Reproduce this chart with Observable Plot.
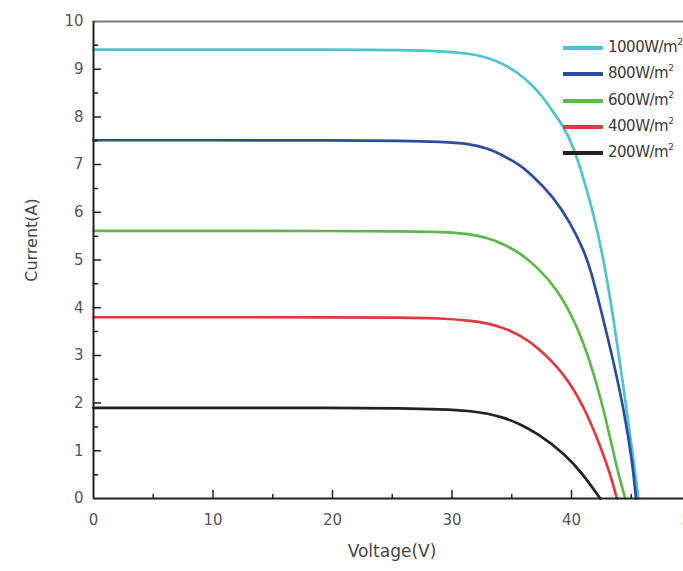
<!DOCTYPE html>
<html>
<head>
<meta charset="utf-8">
<script src="https://cdn.jsdelivr.net/npm/d3@7"></script>
<script src="https://cdn.jsdelivr.net/npm/@observablehq/plot@0.6"></script>
<style>
  html, body { margin: 0; padding: 0; background: #fff; overflow: hidden; }
  #wrap { position: relative; width: 683px; height: 571px; overflow: hidden; background: #fff; }
  #chart { position: absolute; left: 0; top: 0; width: 700px; }
  #chart svg { max-width: none !important; width: 700px; height: 571px; }
  .ylab { position: absolute; left: 31px; top: 240px; transform: translate(-50%, -50%) rotate(-90deg);
          font: 16px "DejaVu Sans", sans-serif; color: #444; white-space: nowrap; }
  .xlab { position: absolute; left: 392px; top: 551px; transform: translate(-50%, -50%);
          font: 17px "DejaVu Sans", sans-serif; color: #444; white-space: nowrap; }
  .legend { position: absolute; left: 563px; top: 35px; font: 15px "DejaVu Sans", sans-serif; color: #3a3a3a; letter-spacing: -0.5px; }
  .legend .row { position: relative; height: 26.3px; white-space: nowrap; }
  .legend .sw { position: absolute; left: 0; top: 11px; width: 40px; height: 4px; }
  .legend .tx { position: absolute; left: 45px; top: 3px; }
  .legend sup { font-size: 9px; vertical-align: 7px; line-height: 0; }
</style>
</head>
<body>
<div id="wrap">
  <div id="chart"></div>
  <div class="ylab">Current(A)</div>
  <div class="xlab">Voltage(V)</div>
  <div class="legend" id="legend"></div>
</div>
<script>
// Series labels and colours
const seriesNames = ["1000W/m²", "800W/m²", "600W/m²", "400W/m²", "200W/m²"];
const seriesColors = ["#4fc1d1", "#2b4c9f", "#5cb848", "#e1393f", "#222222"];

// I-V curves (voltage in V, current in A)
const v1000 = [0, 10, 20, 26, 29, 31.5, 33, 34.3, 35.5, 36.6, 37.5, 38.2, 39.4, 40.2, 41.0, 41.9, 42.7, 43.5, 44.4, 45.2, 45.6];
const i1000 = [9.41, 9.41, 9.41, 9.40, 9.38, 9.33, 9.24, 9.11, 8.93, 8.69, 8.45, 8.20, 7.78, 7.35, 6.72, 5.92, 5.00, 3.80, 2.25, 0.80, 0];

const v800 = [0, 10, 20, 26, 29, 31.5, 33, 34.3, 35.5, 36.6, 38.5, 39.9, 41.0, 41.6, 42.4, 43.5, 44.4, 45.1, 45.4];
const i800 = [7.51, 7.51, 7.51, 7.50, 7.48, 7.44, 7.34, 7.19, 7.02, 6.81, 6.32, 5.78, 5.22, 4.80, 4.02, 2.89, 1.84, 0.75, 0];

const v600 = [0, 10, 20, 26, 29, 31.5, 33, 34.3, 35.7, 37.1, 38.8, 40.5, 41.9, 43.0, 43.8, 44.5];
const i600 = [5.61, 5.61, 5.61, 5.60, 5.59, 5.55, 5.46, 5.34, 5.14, 4.86, 4.40, 3.62, 2.62, 1.55, 0.62, 0];

const v400 = [0, 10, 20, 26, 29, 31.5, 33, 34.3, 35.7, 37.1, 39.4, 41.0, 42.4, 43.3, 43.8];
const i400 = [3.80, 3.80, 3.80, 3.79, 3.78, 3.73, 3.67, 3.58, 3.42, 3.19, 2.62, 1.95, 1.12, 0.47, 0];

const v200 = [0, 10, 20, 26, 29, 31.5, 33, 34.3, 35.7, 37.1, 39.4, 41.0, 42.4];
const i200 = [1.90, 1.90, 1.90, 1.89, 1.87, 1.84, 1.78, 1.70, 1.56, 1.37, 0.95, 0.50, 0];

// Tick values
const xTickLabels = [0, 10, 20, 30, 40, 50];
const xMinorTicks = [5, 15, 25, 35, 45];
const yTickLabels = [0, 1, 2, 3, 4, 5, 6, 7, 8, 9, 10];
const yMinorTicks = [0.5, 1.5, 2.5, 3.5, 4.5, 5.5, 6.5, 7.5, 8.5, 9.5];

const curves = [[v1000, i1000], [v800, i800], [v600, i600], [v400, i400], [v200, i200]];
const data = curves.flatMap(([vs, is], k) => vs.map((v, j) => ({series: seriesNames[k], V: v, I: is[j]})));

const tickShape = {draw(context, l) { context.moveTo(0, 0); context.lineTo(0, -l); }};

const chart = Plot.plot({
  width: 700,
  height: 571,
  marginLeft: 93,
  marginRight: 9.5,
  marginTop: 21,
  marginBottom: 73,
  style: {color: "#555", fontFamily: "DejaVu Sans, sans-serif", background: "transparent", maxWidth: "none"},
  x: {domain: [0, 50]},
  y: {domain: [0, 10]},
  color: {domain: seriesNames, range: seriesColors},
  marks: [
    Plot.ruleY([10], {stroke: "#7a7a7a", strokeWidth: 2}),
    Plot.line(data, {x: "V", y: "I", z: "series", stroke: "series", curve: "basis", strokeWidth: 2.7}),
    Plot.ruleX([0], {stroke: "#222", strokeWidth: 2}),
    Plot.ruleY([0], {stroke: "#222", strokeWidth: 2}),
    Plot.vector(xTickLabels.filter(d => d > 0), {x: d => d, frameAnchor: "bottom", length: 8, anchor: "start", shape: tickShape, stroke: "#222", strokeWidth: 1.5}),
    Plot.vector(xMinorTicks, {x: d => d, frameAnchor: "bottom", length: 4, anchor: "start", shape: tickShape, stroke: "#222", strokeWidth: 1.5}),
    Plot.vector(yTickLabels.filter(d => d > 0 && d < 10), {y: d => d, frameAnchor: "left", length: 7, rotate: 90, anchor: "start", shape: tickShape, stroke: "#222", strokeWidth: 1.5}),
    Plot.vector(yMinorTicks, {y: d => d, frameAnchor: "left", length: 4, rotate: 90, anchor: "start", shape: tickShape, stroke: "#222", strokeWidth: 1.5}),
    Plot.axisX({ticks: xTickLabels, tickSize: 0, tickPadding: 16, tickFormat: d => String(d), fontSize: 15, label: null}),
    Plot.axisY({ticks: yTickLabels, tickSize: 0, tickPadding: 10, tickFormat: d => String(d), fontSize: 15, label: null})
  ]
});
document.getElementById("chart").appendChild(chart);

// Legend
const legend = document.getElementById("legend");
seriesNames.forEach((name, k) => {
  const row = document.createElement("div");
  row.className = "row";
  const sw = document.createElement("div");
  sw.className = "sw";
  sw.style.background = seriesColors[k];
  const tx = document.createElement("div");
  tx.className = "tx";
  tx.innerHTML = name.replace("²", "<sup>2</sup>");
  row.appendChild(sw);
  row.appendChild(tx);
  legend.appendChild(row);
});
</script>
</body>
</html>
